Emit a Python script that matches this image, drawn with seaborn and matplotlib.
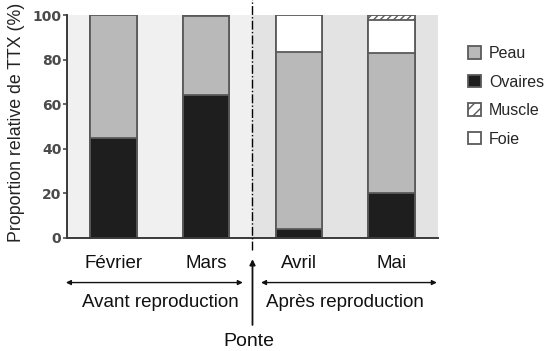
import numpy as np
import pandas as pd
import matplotlib
matplotlib.use('Agg')
import matplotlib.pyplot as plt
from matplotlib.patches import Patch
import seaborn as sns

# data (percent of total TTX per tissue)
months = ['Février', 'Mars', 'Avril', 'Mai']
ovaires = [45, 64, 4, 20]
peau = [55, 35.5, 79.5, 63]
foie = [0, 0, 16.5, 15]
muscle = [0, 0.5, 0, 2]
yticks = [0, 20, 40, 60, 80, 100]

sns.set_style('white')
plt.rcParams['font.family'] = ['Liberation Sans', 'DejaVu Sans']

df = pd.DataFrame({'Mois': months, 'Ovaires': ovaires, 'Peau': peau,
                   'Foie': foie, 'Muscle': muscle})
df['cum_peau'] = df['Ovaires'] + df['Peau']
df['cum_foie'] = df['cum_peau'] + df['Foie']
df['cum_muscle'] = df['cum_foie'] + df['Muscle']

fig = plt.figure(figsize=(5.57, 3.51), dpi=100)
ax = fig.add_axes([0.1203, 0.322, 0.666, 0.635])

# background bands (before / after spawning)
ax.axvspan(-0.5, 1.5, color='#f0f0f0', zorder=0)
ax.axvspan(1.5, 3.5, color='#e3e3e3', zorder=0)

edge = '#5a5a5a'
common = dict(data=df, x='Mois', width=0.5, edgecolor=edge, linewidth=1.3,
              ax=ax, zorder=2)
sns.barplot(y='cum_muscle', color='white', hatch='/////', **common)
sns.barplot(y='cum_foie', color='white', **common)
sns.barplot(y='cum_peau', color='#b9b9b9', **common)
sns.barplot(y='Ovaires', color='#1e1e1e', **common)

ax.set_xlim(-0.5, 3.5)
ax.set_ylim(0, 100)
ax.set_yticks(yticks)
ax.set_xlabel('')
ax.set_ylabel('Proportion relative de TTX (%)', fontsize=12.8, color='#222222')
ax.yaxis.set_label_coords(-0.113, 0.52)
ax.tick_params(axis='y', labelsize=10, colors='#4a4a4a', length=3, width=1.2,
               left=True, pad=1)
for lab in ax.get_yticklabels():
    lab.set_fontfamily('DejaVu Sans')
    lab.set_fontweight('bold')
ax.tick_params(axis='x', length=0, pad=12, labelsize=13.5, labelcolor='#111111')
for s in ['top', 'right']:
    ax.spines[s].set_visible(False)
for s in ['left', 'bottom']:
    ax.spines[s].set_color('#3a3a3a')
    ax.spines[s].set_linewidth(1.4)

# spawning divider
ax.axvline(1.5, ymin=-0.054, ymax=1.07, color='black', lw=1, ls='-.',
           clip_on=False, zorder=3)

# period arrows and labels
arrow = dict(arrowstyle='<|-|>', color='#111111', lw=1, mutation_scale=7,
             shrinkA=0, shrinkB=0)
ax.annotate('', xy=(-0.003, -0.2), xytext=(0.474, -0.2),
            xycoords='axes fraction', arrowprops=arrow)
ax.annotate('', xy=(0.523, -0.2), xytext=(0.997, -0.2),
            xycoords='axes fraction', arrowprops=arrow)
ax.text(0.251, -0.29, 'Avant reproduction', transform=ax.transAxes,
        ha='center', va='center', fontsize=13.5, color='#111111')
ax.text(0.749, -0.29, 'Après reproduction', transform=ax.transAxes,
        ha='center', va='center', fontsize=13.5, color='#111111')
ax.annotate('', xy=(0.5, -0.095), xytext=(0.5, -0.39),
            xycoords='axes fraction',
            arrowprops=dict(arrowstyle='-|>', color='#111111', lw=1.3,
                            mutation_scale=8, shrinkA=0, shrinkB=0))
ax.text(0.49, -0.465, 'Ponte', transform=ax.transAxes, ha='center',
        va='center', fontsize=14, color='#111111')

# legend
handles = [
    Patch(facecolor='#b9b9b9', edgecolor=edge, lw=1.3, label='Peau'),
    Patch(facecolor='#1e1e1e', edgecolor=edge, lw=1.3, label='Ovaires'),
    Patch(facecolor='white', edgecolor=edge, lw=1.3, hatch='///', label='Muscle'),
    Patch(facecolor='white', edgecolor=edge, lw=1.3, label='Foie'),
]
fig.legend(handles=handles, loc='upper left', bbox_to_anchor=(0.815, 0.91),
           frameon=False, fontsize=11.5, handlelength=0.8, handleheight=0.8,
           handletextpad=0.5, labelspacing=0.85)

fig.savefig('out.png', dpi=100)
